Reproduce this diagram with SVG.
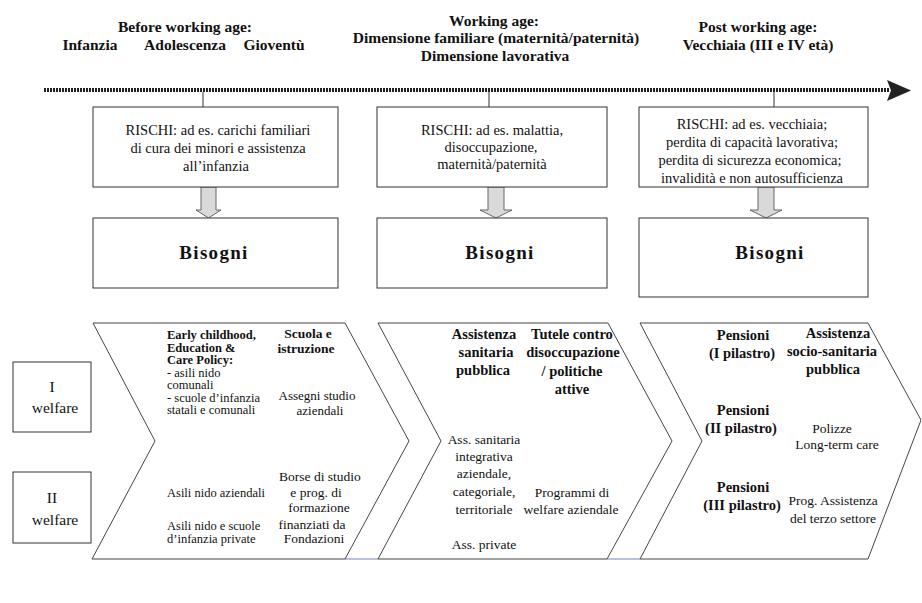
<svg xmlns="http://www.w3.org/2000/svg" width="922" height="603" viewBox="0 0 922 603" font-family="'Liberation Serif', 'DejaVu Serif', serif">
<style>
text{font-family:'Liberation Serif','DejaVu Serif',serif;fill:#111}
.h{font-weight:bold;font-size:15.5px;text-anchor:middle}
.r{font-size:14.5px;text-anchor:middle}
.bis{font-weight:bold;font-size:19px;letter-spacing:1.3px;text-anchor:middle}
.cb{font-weight:bold;font-size:14.5px;text-anchor:middle}
.cb2{font-weight:bold;font-size:13.5px;text-anchor:middle}
.cb1{font-weight:bold;font-size:12.5px}
.cr{font-size:13.5px;text-anchor:middle}
.cr2{font-size:13px;text-anchor:middle}
.cl{font-size:12.5px}
.lab{font-size:15.5px;text-anchor:middle}
.box{fill:#fff;stroke:#333;stroke-width:1}
.chev{fill:#fff;stroke:#444;stroke-width:1}
.tick{stroke:#333;stroke-width:1}
.darr{fill:#d9d9d9;stroke:#666;stroke-width:1}
.blue{stroke:#7484b8;stroke-width:1.2}
</style>
<rect width="922" height="603" fill="#fff"/>

<g id="header-before">
<text class="h" x="185" y="32">Before working age:</text>
<text class="h" x="90" y="50">Infanzia</text>
<text class="h" x="185" y="50">Adolescenza</text>
<text class="h" x="274" y="50">Gioventù</text>
</g>
<g id="header-working">
<text class="h" x="494" y="26">Working age:</text>
<text class="h" x="496" y="43">Dimensione familiare (maternità/paternità)</text>
<text class="h" x="495" y="61">Dimensione lavorativa</text>
</g>
<g id="header-post">
<text class="h" x="758" y="32">Post working age:</text>
<text class="h" x="758" y="50">Vecchiaia (III e IV età)</text>
</g>

<g id="connectors">
<line x1="44" y1="90" x2="890" y2="90" stroke="#222" stroke-width="4" stroke-dasharray="2 1"/>
<polygon points="887,80 911,90.5 887,101 891,90.5" fill="#222"/>
<line class="tick" x1="203" y1="92" x2="203" y2="107"/>
<line class="tick" x1="489" y1="92" x2="489" y2="107"/>
<line class="tick" x1="774" y1="92" x2="774" y2="107"/>
<polygon class="darr" points="201,187 216,187 216,210 221,210 208.5,218 196,210 201,210"/>
<polygon class="darr" points="488,187 504,187 504,210 512,210 496,218 480,210 488,210"/>
<polygon class="darr" points="758,187 774,187 774,210 782,210 766,218 750,210 758,210"/>
<line class="blue" x1="345" y1="559" x2="378" y2="559"/>
<line class="blue" x1="607" y1="559" x2="640" y2="559"/>
</g>

<g id="rischi-1">
<rect class="box" x="93" y="107" width="245" height="80"/>
<text class="r" x="218" y="135">RISCHI: ad es. carichi familiari</text>
<text class="r" x="218" y="153">di cura dei minori e assistenza</text>
<text class="r" x="216" y="171">all’infanzia</text>
</g>
<g id="rischi-2">
<rect class="box" x="377" y="107" width="230" height="80"/>
<text class="r" x="492" y="135">RISCHI: ad es. malattia,</text>
<text class="r" x="491" y="152">disoccupazione,</text>
<text class="r" x="492" y="169">maternità/paternità</text>
</g>
<g id="rischi-3">
<rect class="box" x="639" y="107" width="229" height="80"/>
<text class="r" x="752" y="129">RISCHI: ad es. vecchiaia;</text>
<text class="r" x="752" y="147">perdita di capacità lavorativa;</text>
<text class="r" x="750" y="165">perdita di sicurezza economica;</text>
<text class="r" x="752" y="183">invalidità e non autosufficienza</text>
</g>

<g id="bisogni-1">
<rect class="box" x="93" y="218" width="245" height="70"/>
<text class="bis" x="214" y="259">Bisogni</text>
</g>
<g id="bisogni-2">
<rect class="box" x="377" y="218" width="230" height="70"/>
<text class="bis" x="500" y="259">Bisogni</text>
</g>
<g id="bisogni-3">
<rect class="box" x="639" y="218" width="229" height="79"/>
<text class="bis" x="770" y="259">Bisogni</text>
</g>

<g id="label-I">
<rect class="box" x="13" y="362" width="78" height="70"/>
<text class="lab" x="52" y="392">I</text>
<text class="lab" x="55" y="413">welfare</text>
</g>
<g id="label-II">
<rect class="box" x="13" y="472" width="78" height="71"/>
<text class="lab" x="52" y="503">II</text>
<text class="lab" x="55" y="525">welfare</text>
</g>

<g id="chevron-1">
<polygon class="chev" points="93,323 345,323 409,441 345,559 92,559 155,441"/>
<text class="cb1" x="167" y="339">Early childhood,</text>
<text class="cb1" x="167" y="351.5">Education &amp;</text>
<text class="cb1" x="167" y="364">Care Policy:</text>
<text class="cl" x="167" y="376.5">- asili nido</text>
<text class="cl" x="167" y="389">comunali</text>
<text class="cl" x="167" y="401.5">- scuole d’infanzia</text>
<text class="cl" x="167" y="414">statali e comunali</text>
<text class="cb2" x="308" y="338">Scuola e</text>
<text class="cb2" x="306" y="353">istruzione</text>
<text class="cr2" x="317" y="400">Assegni studio</text>
<text class="cr2" x="320" y="415">aziendali</text>
<text class="cl" x="167" y="497">Asili nido aziendali</text>
<text class="cl" x="167" y="530">Asili nido e scuole</text>
<text class="cl" x="167" y="543">d’infanzia private</text>
<text class="cr" x="320" y="481">Borse di studio</text>
<text class="cr" x="316" y="497">e prog. di</text>
<text class="cr" x="319" y="512">formazione</text>
<text class="cr" x="312" y="529">finanziati da</text>
<text class="cr" x="314" y="543">Fondazioni</text>
</g>

<g id="chevron-2">
<polygon class="chev" points="378,323 608,323 672,441 607,559 378,559 441,441"/>
<text class="cb" x="484" y="339">Assistenza</text>
<text class="cb" x="486" y="357">sanitaria</text>
<text class="cb" x="483" y="375">pubblica</text>
<text class="cb" x="572" y="339">Tutele contro</text>
<text class="cb" x="573" y="357">disoccupazione</text>
<text class="cb" x="572" y="376">/ politiche</text>
<text class="cb" x="572" y="394">attive</text>
<text class="cr" x="484" y="444">Ass. sanitaria</text>
<text class="cr" x="484" y="461">integrativa</text>
<text class="cr" x="484" y="478">aziendale,</text>
<text class="cr" x="484" y="496">categoriale,</text>
<text class="cr" x="484" y="514">territoriale</text>
<text class="cr" x="484" y="549">Ass. private</text>
<text class="cr" x="572" y="497">Programmi di</text>
<text class="cr" x="571" y="514">welfare aziendale</text>
</g>

<g id="chevron-3">
<polygon class="chev" points="640,323 868,323 921,420 868,559 640,559 702,441"/>
<text class="cb" x="743" y="340">Pensioni</text>
<text class="cb" x="742" y="358">(I pilastro)</text>
<text class="cb" x="838" y="338">Assistenza</text>
<text class="cb" x="832" y="356">socio-sanitaria</text>
<text class="cb" x="833" y="374">pubblica</text>
<text class="cb" x="743" y="415">Pensioni</text>
<text class="cb" x="741" y="433">(II pilastro)</text>
<text class="cr" x="832" y="433">Polizze</text>
<text class="cr" x="837" y="449">Long-term care</text>
<text class="cb" x="743" y="492">Pensioni</text>
<text class="cb" x="742" y="510">(III pilastro)</text>
<text class="cr" x="833" y="505">Prog. Assistenza</text>
<text class="cr" x="833" y="523">del terzo settore</text>
</g>
</svg>
